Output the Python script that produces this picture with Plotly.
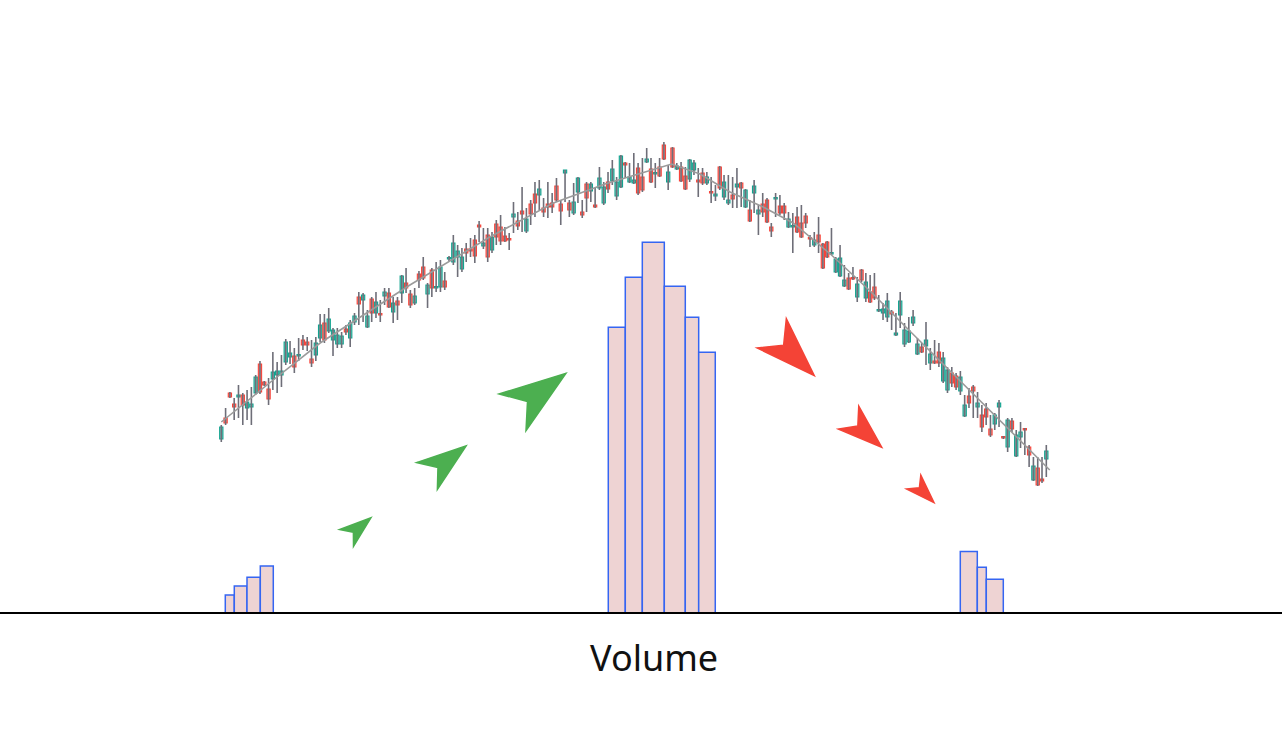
import math
import plotly.graph_objects as go

# ---------------- data ----------------
OPEN = [174, 195, 220, 209, 216, 218, 205, 206, 220, 249, 231, 224, 234, 238, 238, 251, 256, 257, 257, 273,
        271, 254, 258, 275, 290, 282, 273, 269, 269, 284, 275, 291, 316, 313, 286, 314, 300, 299, 317, 320,
        301, 312, 320, 330, 319, 310, 339, 346, 319, 343, 325, 326, 332, 354, 351, 356, 344, 364, 364, 373,
        388, 367, 378, 363, 389, 386, 377, 374, 396, 392, 402, 382, 409, 419, 418, 405, 409, 410, 427, 409,
        440, 410, 400, 421, 401, 429, 422, 408, 425, 410, 431, 432, 417, 426, 450, 431, 430, 445, 436, 451,
        444, 439, 446, 468, 431, 465, 444, 446, 437, 434, 443, 433, 440, 430, 421, 417, 446, 416, 410, 418,
        426, 430, 406, 403, 420, 399, 409, 413, 386, 414, 407, 407, 386, 386, 396, 390, 397, 375, 368, 378,
        369, 371, 359, 341, 337, 327, 335, 335, 316, 343, 315, 321, 326, 302, 300, 296, 301, 278, 298, 269,
        271, 290, 259, 266, 267, 250, 252, 261, 232, 223, 240, 237, 222, 197, 217, 226, 206, 198, 204, 184,
        189, 206, 176, 166, 192, 157, 176, 184, 166, 133, 145, 134, 154]
HIGH = [188, 205, 221, 215, 228, 220, 223, 226, 238, 252, 232, 235, 261, 251, 258, 274, 272, 265, 275, 278,
        276, 273, 276, 299, 299, 305, 285, 285, 281, 288, 293, 300, 321, 320, 303, 316, 321, 313, 325, 325,
        316, 316, 338, 345, 323, 325, 342, 356, 330, 345, 351, 353, 341, 357, 378, 368, 365, 370, 375, 378,
        392, 385, 385, 381, 393, 398, 386, 380, 411, 401, 426, 405, 413, 431, 433, 415, 431, 420, 435, 413,
        443, 413, 430, 436, 413, 431, 431, 425, 446, 431, 441, 453, 436, 458, 451, 450, 460, 450, 455, 465,
        455, 450, 455, 471, 448, 466, 450, 451, 446, 454, 453, 445, 445, 441, 436, 428, 447, 438, 438, 436,
        445, 431, 424, 413, 433, 408, 420, 415, 390, 420, 418, 410, 401, 400, 406, 408, 400, 378, 381, 396,
        370, 372, 385, 356, 368, 348, 340, 346, 336, 344, 340, 338, 340, 318, 310, 320, 303, 300, 321, 290,
        296, 303, 275, 270, 291, 265, 273, 270, 261, 246, 246, 240, 242, 218, 225, 228, 221, 208, 210, 198,
        200, 213, 177, 195, 195, 183, 191, 185, 168, 156, 156, 156, 168]
LOW = [171, 188, 215, 193, 195, 188, 193, 188, 218, 219, 227, 208, 223, 220, 226, 248, 249, 240, 252, 263,
       262, 246, 252, 271, 270, 280, 257, 265, 265, 278, 266, 288, 288, 291, 285, 291, 295, 291, 308, 305,
       290, 293, 310, 320, 305, 308, 325, 333, 305, 316, 321, 321, 323, 352, 348, 336, 341, 351, 356, 350,
       371, 364, 351, 360, 368, 368, 371, 363, 380, 383, 381, 380, 388, 396, 403, 396, 395, 400, 411, 388,
       411, 396, 398, 410, 395, 401, 411, 405, 423, 408, 420, 428, 413, 425, 435, 430, 429, 418, 421, 450,
       430, 425, 436, 453, 423, 445, 443, 431, 423, 431, 438, 416, 428, 428, 410, 412, 423, 413, 408, 405,
       405, 406, 405, 391, 400, 378, 396, 390, 376, 396, 398, 393, 385, 360, 380, 375, 385, 366, 366, 360,
       344, 355, 358, 340, 336, 326, 323, 333, 311, 331, 311, 310, 313, 301, 293, 291, 283, 277, 285, 266,
       270, 287, 258, 260, 248, 243, 249, 246, 230, 220, 226, 223, 218, 196, 205, 195, 195, 181, 188, 176,
       183, 186, 174, 161, 181, 156, 165, 158, 146, 132, 127, 130, 136]
CLOSE = [186, 190, 216, 206, 218, 208, 211, 209, 236, 221, 228, 214, 241, 242, 242, 271, 260, 246, 258, 268,
         268, 250, 270, 288, 273, 294, 283, 278, 277, 281, 290, 297, 309, 318, 297, 300, 311, 298, 321, 306,
         310, 308, 337, 325, 308, 317, 333, 335, 328, 325, 326, 346, 326, 355, 370, 362, 356, 360, 362, 357,
         386, 370, 356, 376, 376, 372, 372, 373, 399, 387, 399, 394, 399, 410, 424, 401, 406, 406, 413, 402,
         443, 403, 411, 435, 398, 415, 429, 406, 435, 426, 424, 444, 431, 457, 448, 436, 433, 420, 423, 454,
         431, 440, 437, 454, 441, 446, 447, 432, 424, 453, 450, 431, 430, 436, 420, 419, 425, 431, 413, 414,
         429, 425, 423, 392, 427, 403, 401, 391, 382, 415, 400, 400, 394, 387, 381, 376, 390, 374, 373, 371,
         345, 356, 360, 354, 355, 333, 324, 334, 329, 333, 331, 311, 315, 303, 304, 312, 299, 280, 312, 283,
         282, 296, 269, 261, 273, 259, 250, 250, 255, 243, 230, 226, 236, 208, 210, 222, 210, 186, 196, 178,
         198, 210, 175, 193, 184, 178, 181, 183, 158, 147, 128, 132, 162]

MA_IDX = [0, 11.5, 23, 43.9, 62.5, 77.3, 89.3, 99.8, 104.8, 111.4, 118.4, 126.1, 133.1, 142, 151, 160, 170, 180, 192.8]
MA_VAL = [191, 231, 270, 328, 376, 410, 429, 443, 449, 439, 421, 406, 390, 358, 322, 283, 240, 198, 143]

VOL_X = [1.978, 4.503, 7.529, 10.589, 92.04, 96.00, 100.54, 105.54, 109.54, 113.03, 173.96, 176.99, 180.01]
VOLUME = [4.85, 7.28, 9.62, 12.67, 77.0, 90.5, 99.9, 88.1, 79.7, 70.3, 16.6, 12.3, 9.1]
VOL_W = [2.094, 2.956, 3.095, 3.025, 3.96, 3.96, 5.12, 4.89, 3.12, 3.86, 3.96, 2.09, 3.96]

# decorative trend arrows (tip in data coords, length in px, screen direction in degrees)
ARROW_X = [34.84, 56.95, 80.21, 138.0, 153.69, 165.86]
ARROW_Y = [95.3, 167.0, 239.7, 237.3, 165.7, 110.3]
ARROW_LEN = [33.5, 52, 70, 63.5, 47, 30.6]
ARROW_DIR = [-39.5, -37.6, -36.2, 44.9, 41.8, 45.5]
ARROW_COLOR = ["#4caf50", "#4caf50", "#4caf50", "#f44336", "#f44336", "#f44336"]

# ---------------- layout constants ----------------
W, H = 1282, 748
XR = [-51.50, 246.85]
YR = [-135, 613]
Y2R = [-36.39, 165.23]

UP_LINE, UP_FILL = "#12a38f", "rgba(18,163,143,0.55)"
DN_LINE, DN_FILL = "#f6443a", "rgba(246,68,58,0.60)"
WICK = "#6e6e78"

idx = list(range(len(OPEN)))

fig = go.Figure()

# wicks
wx, wy = [], []
for i in idx:
    wx += [i, i, None]
    wy += [LOW[i], HIGH[i], None]
fig.add_trace(go.Scatter(x=wx, y=wy, mode="lines", line=dict(color=WICK, width=1.6),
                         hoverinfo="skip", showlegend=False))

# moving average
fig.add_trace(go.Scatter(x=MA_IDX, y=MA_VAL, mode="lines", line=dict(color="#9b9b9b", width=1.6),
                         hoverinfo="skip", showlegend=False))

# bodies
for up in (True, False):
    xs, base, hgt = [], [], []
    for i in idx:
        if (CLOSE[i] >= OPEN[i]) == up:
            lo, hi = min(OPEN[i], CLOSE[i]), max(OPEN[i], CLOSE[i])
            xs.append(i)
            base.append(lo)
            hgt.append(max(hi - lo, 1.5))
    fig.add_trace(go.Bar(x=xs, y=hgt, base=base, width=0.76,
                         marker=dict(color=UP_FILL if up else DN_FILL,
                                     line=dict(color=UP_LINE if up else DN_LINE, width=1.1)),
                         hoverinfo="skip", showlegend=False))

# volume
fig.add_trace(go.Bar(x=VOL_X, y=VOLUME, width=VOL_W, yaxis="y2",
                     marker=dict(color="#eed3d3", line=dict(color="#3565f2", width=1.5)),
                     hoverinfo="skip", showlegend=False))

# arrows
pxx = W / (XR[1] - XR[0])
pxy = H / (YR[1] - YR[0])
shapes = []
half = math.radians(19)
for x0, y0, L, d, col in zip(ARROW_X, ARROW_Y, ARROW_LEN, ARROW_DIR, ARROW_COLOR):
    a = math.radians(d)
    fx, fy = math.cos(a), math.sin(a)
    qx, qy = -fy, fx
    D = L * math.cos(half)
    Wd = L * math.sin(half)
    N = 0.72 * D
    pts = []
    for u, v in [(0, 0), (-D, Wd), (-N, 0), (-D, -Wd)]:
        ox = u * fx + v * qx
        oy = u * fy + v * qy
        pts.append((x0 + ox / pxx, y0 - oy / pxy))
    path = "M " + " L ".join(f"{p[0]:.4f},{p[1]:.4f}" for p in pts) + " Z"
    shapes.append(dict(type="path", path=path, xref="x", yref="y",
                       fillcolor=col, line=dict(color=col, width=1.5), layer="above"))

# baseline
shapes.append(dict(type="line", xref="paper", yref="y2", x0=0, x1=1, y0=0, y1=0,
                   line=dict(color="#000000", width=2), layer="above"))

fig.update_layout(
    width=W, height=H, autosize=False,
    margin=dict(l=0, r=0, t=0, b=0, pad=0),
    paper_bgcolor="white", plot_bgcolor="white",
    barmode="overlay", showlegend=False,
    xaxis=dict(range=XR, visible=False, fixedrange=True),
    yaxis=dict(range=YR, visible=False, fixedrange=True),
    yaxis2=dict(range=Y2R, visible=False, overlaying="y", fixedrange=True),
    shapes=shapes,
    annotations=[dict(text="Volume", xref="paper", yref="y", x=0.5103, y=-44,
                      xanchor="center", yanchor="middle", showarrow=False,
                      font=dict(family="Noto Sans, Open Sans, sans-serif", size=36, color="#111111"))],
)

fig.write_html("out.html", config={"displayModeBar": False},
               post_script="document.body.style.margin='0px';document.body.style.overflow='hidden';")
